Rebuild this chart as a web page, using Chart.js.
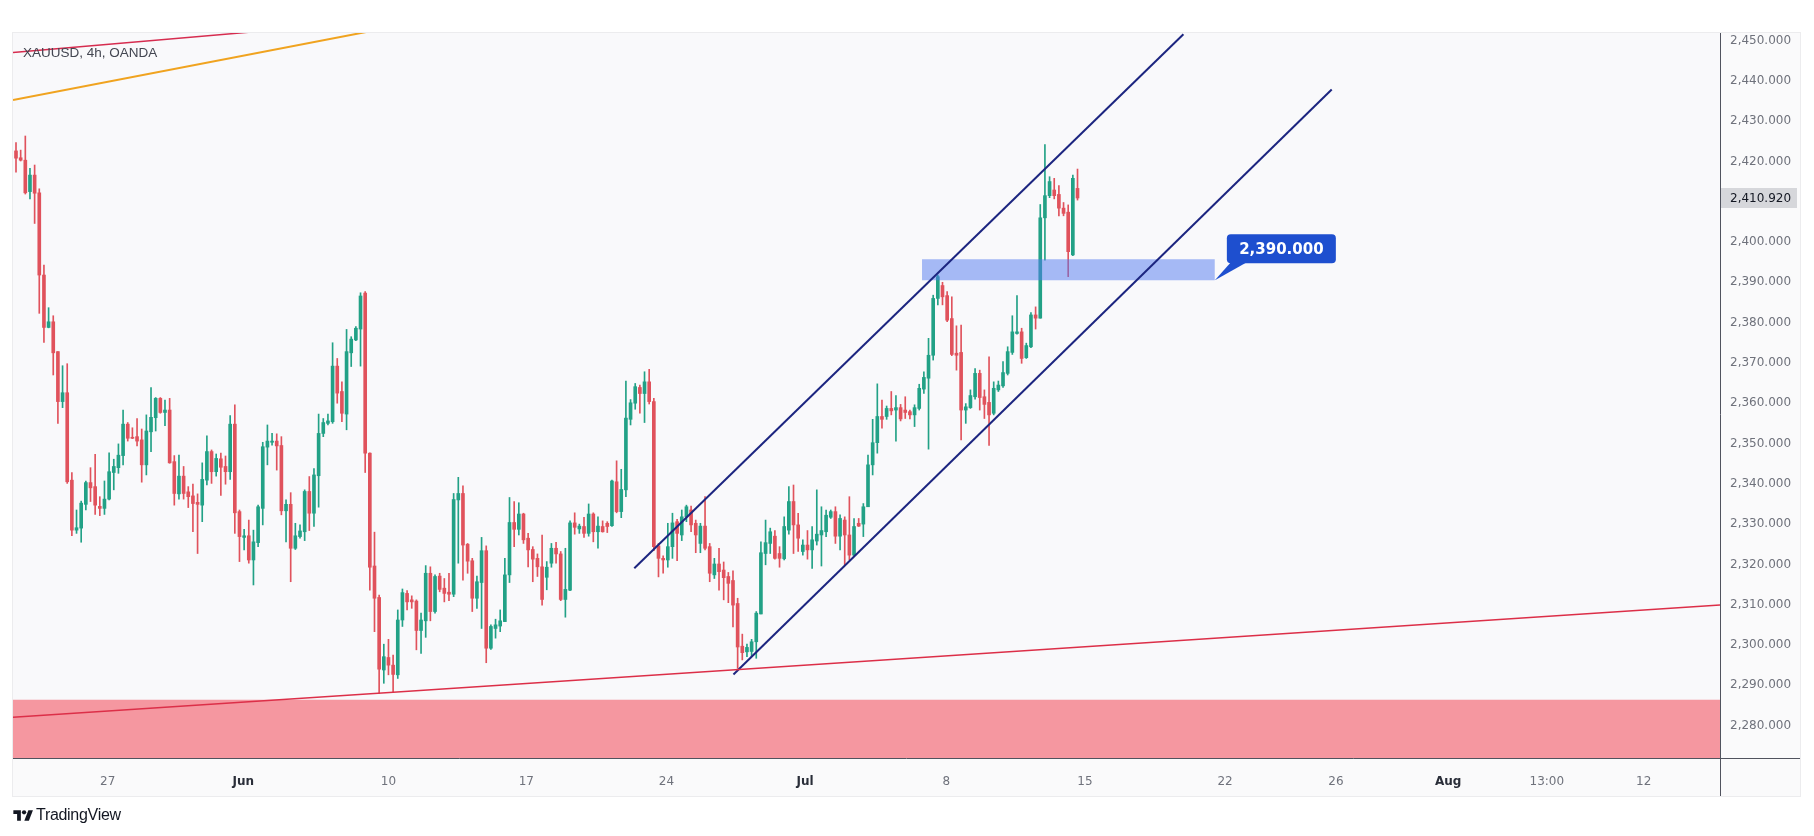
<!DOCTYPE html>
<html>
<head>
<meta charset="utf-8">
<script src="https://cdn.jsdelivr.net/npm/chart.js@4.4.1/dist/chart.umd.min.js"></script>
<style>
  html,body{margin:0;padding:0;background:#fff;}
  #wrap{position:relative;width:1814px;height:836px;}
  #title{position:absolute;left:23px;top:45px;font:13.5px "Liberation Sans",Arial,sans-serif;color:#434651;white-space:nowrap;}
  #logo{position:absolute;left:13px;top:806px;display:flex;align-items:center;gap:3px;font:16px "Liberation Sans",Arial,sans-serif;color:#131722;letter-spacing:-0.3px;}
</style>
</head>
<body>
<div id="wrap">
  <canvas id="chart" width="1814" height="836"></canvas>
  <div id="title">XAUUSD, 4h, OANDA</div>
  <div id="logo">
    <svg width="20" height="15" viewBox="0 0 36 28"><path d="M14 24H7V11H0V4h14v20z" fill="#131722"/><circle cx="20" cy="8" r="4" fill="#131722"/><path d="M29 24h-8.5L28 4h8.5z" fill="#131722"/></svg>
    <span>TradingView</span>
  </div>
</div>
<script>
// ----------------- DATA (XAUUSD 4h) -----------------
const opens = [2422.6,2420.9,2420.3,2412.5,2416.6,2412.2,2391.8,2378.8,2380.2,2372.8,
  2360.4,2362.6,2340.9,2328.5,2329.0,2334.9,2340.3,2339.3,2334.4,2333.9,
  2336.2,2342.8,2344.0,2347.0,2354.8,2351.5,2351.7,2350.9,2344.7,2352.9,
  2356.4,2361.2,2357.7,2358.3,2345.5,2337.5,2341.9,2338.0,2337.0,2335.4,
  2334.7,2340.9,2348.0,2343.0,2346.2,2344.3,2343.0,2354.8,2333.1,2326.7,
  2327.1,2321.1,2325.4,2333.9,2349.1,2350.3,2350.6,2349.5,2333.3,2334.9,
  2324.0,2326.9,2328.1,2338.1,2332.7,2342.0,2352.5,2355.0,2355.4,2369.2,
  2362.9,2357.3,2372.5,2375.7,2378.4,2387.3,2347.6,2319.6,2311.8,2293.8,
  2296.9,2295.0,2292.6,2306.2,2312.8,2311.2,2310.9,2303.6,2306.0,2317.8,
  2308.3,2317.1,2314.1,2313.1,2312.6,2336.0,2337.6,2325.0,2320.9,2311.6,
  2315.5,2323.4,2299.2,2304.1,2304.7,2305.8,2317.4,2330.4,2328.7,2332.5,
  2326.5,2323.7,2321.5,2319.4,2316.8,2320.3,2324.0,2322.6,2311.3,2313.6,
  2330.3,2328.8,2329.4,2327.7,2332.5,2328.1,2329.4,2330.2,2329.6,2340.5,
  2333.1,2338.5,2356.0,2360.0,2363.9,2362.4,2365.3,2360.4,2324.6,2321.5,
  2321.1,2324.4,2330.6,2327.3,2331.8,2333.5,2330.2,2325.2,2329.5,2324.4,
  2317.4,2320.1,2318.6,2317.0,2316.0,2310.3,2299.7,2298.3,2298.4,2300.8,
  2307.7,2322.7,2325.2,2327.0,2322.7,2321.4,2328.5,2335.6,2329.8,2323.2,
  2324.8,2323.6,2325.8,2327.3,2328.1,2331.7,2333.1,2327.0,2331.0,2327.3,
  2322.3,2330.2,2330.0,2334.3,2344.7,2350.2,2356.7,2356.7,2358.7,2358.3,
  2358.9,2358.3,2357.9,2357.1,2358.7,2363.5,2366.2,2371.9,2386.0,2389.2,
  2386.7,2381.0,2372.4,2372.6,2358.3,2358.9,2361.6,2367.4,2361.6,2360.2,
  2357.5,2363.3,2364.3,2367.4,2372.6,2377.3,2377.7,2371.3,2374.0,2381.9,
  2381.1,2406.0,2411.5,2412.9,2411.8,2408.4,2407.4,2396.8,2413.3];

const highs = [2424.7,2422.8,2426.3,2418.3,2419.1,2413.2,2394.3,2383.7,2381.7,2372.8,
  2369.3,2369.8,2342.8,2333.5,2335.7,2340.7,2344.0,2347.3,2336.8,2340.7,
  2347.7,2346.1,2349.9,2358.3,2355.2,2353.9,2356.2,2353.6,2357.1,2363.9,
  2361.4,2361.4,2360.8,2361.2,2347.0,2347.1,2344.3,2339.3,2339.9,2337.5,
  2345.2,2351.9,2348.4,2347.4,2347.6,2346.9,2356.9,2359.6,2333.5,2328.7,
  2331.0,2328.5,2334.7,2350.3,2354.6,2352.5,2352.4,2351.7,2336.0,2337.8,
  2330.2,2329.8,2338.5,2341.8,2343.8,2357.3,2356.2,2357.3,2375.0,2371.1,
  2365.3,2378.3,2376.5,2379.0,2387.4,2387.7,2347.7,2328.0,2312.4,2300.2,
  2301.4,2297.5,2308.7,2313.9,2313.5,2312.2,2311.2,2307.9,2319.7,2319.4,
  2317.4,2317.8,2316.5,2317.8,2337.6,2341.6,2339.5,2325.2,2321.5,2317.1,
  2326.7,2324.6,2305.0,2306.4,2308.7,2321.5,2336.6,2335.6,2335.3,2332.7,
  2327.7,2324.4,2322.6,2327.3,2320.7,2325.2,2325.5,2323.2,2324.0,2330.8,
  2332.8,2330.0,2331.7,2335.0,2332.8,2331.8,2330.8,2330.6,2340.9,2345.7,
  2343.6,2365.5,2360.9,2364.9,2364.5,2367.8,2368.4,2361.2,2325.2,2322.1,
  2330.2,2332.7,2331.2,2333.5,2334.7,2334.5,2331.0,2330.2,2336.8,2325.2,
  2321.5,2324.0,2320.6,2318.0,2318.4,2311.6,2302.7,2300.2,2301.4,2308.3,
  2325.6,2331.0,2329.0,2328.4,2324.4,2331.8,2339.3,2339.7,2332.7,2326.1,
  2328.4,2329.4,2338.5,2334.3,2333.5,2333.5,2334.3,2332.3,2331.8,2336.8,
  2331.4,2331.4,2335.1,2347.1,2356.0,2364.8,2360.8,2359.3,2362.9,2361.9,
  2359.7,2361.6,2358.3,2359.6,2364.7,2367.8,2376.1,2386.8,2391.8,2390.0,
  2387.7,2386.4,2379.2,2379.4,2359.9,2363.3,2368.6,2368.2,2363.3,2371.5,
  2365.3,2365.5,2370.3,2374.0,2381.7,2386.7,2378.6,2374.9,2382.5,2383.9,
  2409.3,2424.2,2416.2,2415.8,2414.0,2409.8,2409.2,2416.6,2418.1];

const lows = [2417.3,2420.1,2411.9,2410.7,2404.6,2382.3,2375.1,2378.7,2367.0,2355.0,
  2358.9,2340.1,2327.1,2327.7,2325.5,2333.5,2335.6,2332.4,2332.1,2332.4,
  2336.0,2338.5,2342.6,2344.7,2350.6,2351.2,2349.4,2340.4,2342.2,2348.0,
  2353.1,2357.5,2354.4,2345.1,2334.7,2336.2,2336.2,2334.1,2328.1,2322.7,
  2330.6,2339.7,2340.1,2341.9,2337.1,2339.9,2341.1,2327.7,2320.7,2323.6,
  2320.3,2314.9,2324.4,2329.8,2344.7,2349.6,2343.4,2332.3,2325.6,2315.7,
  2323.7,2326.5,2325.9,2328.4,2329.4,2334.2,2351.7,2354.6,2355.0,2360.0,
  2355.4,2353.4,2369.1,2375.5,2369.2,2342.8,2313.6,2303.3,2288.0,2290.5,
  2292.6,2288.2,2291.7,2304.6,2308.7,2309.1,2298.8,2297.9,2301.9,2306.0,
  2307.9,2313.2,2310.7,2311.0,2312.0,2320.3,2316.1,2317.8,2308.3,2309.1,
  2304.1,2295.6,2298.9,2301.7,2303.3,2305.8,2315.5,2324.4,2327.3,2325.2,
  2319.4,2315.7,2317.0,2309.9,2313.7,2319.3,2320.3,2311.0,2306.9,2313.5,
  2327.5,2327.7,2326.7,2327.0,2325.6,2324.0,2328.0,2327.9,2329.4,2332.8,
  2331.6,2336.8,2354.6,2358.5,2357.5,2355.2,2359.8,2323.4,2316.9,2317.8,
  2319.3,2321.5,2320.9,2325.9,2330.6,2328.1,2322.9,2322.9,2323.6,2315.7,
  2316.5,2313.6,2311.2,2310.5,2304.5,2294.2,2296.3,2297.1,2297.1,2296.7,
  2307.7,2319.9,2322.7,2321.3,2319.3,2321.1,2327.5,2322.7,2323.2,2322.3,
  2321.3,2319.0,2324.8,2319.6,2326.9,2331.4,2325.2,2323.6,2319.9,2321.1,
  2321.9,2329.4,2326.9,2334.3,2342.2,2347.6,2353.8,2356.0,2357.1,2350.6,
  2355.6,2356.2,2356.1,2354.2,2358.3,2362.4,2348.6,2370.7,2384.4,2384.4,
  2380.2,2371.8,2368.2,2350.9,2355.0,2358.7,2361.0,2358.3,2356.2,2349.5,
  2357.1,2362.9,2363.9,2367.0,2372.1,2377.1,2369.9,2371.1,2373.8,2378.4,
  2381.1,2395.5,2411.0,2410.7,2406.5,2406.5,2391.4,2396.6,2410.4];

const closes = [2420.8,2420.3,2412.2,2416.6,2412.1,2391.8,2378.8,2380.2,2372.5,2360.4,
  2362.6,2340.5,2328.5,2329.1,2335.2,2340.3,2339.0,2334.7,2333.9,2336.2,
  2343.0,2344.3,2347.1,2354.8,2351.3,2351.3,2350.6,2344.7,2353.1,2356.5,
  2361.2,2357.7,2358.3,2345.2,2337.6,2341.9,2337.6,2336.8,2335.1,2334.9,
  2341.1,2348.0,2343.0,2346.3,2344.1,2343.0,2354.8,2332.8,2326.9,2327.1,
  2321.1,2325.6,2334.3,2349.2,2350.6,2350.6,2349.4,2333.3,2334.9,2324.0,
  2327.1,2328.3,2338.1,2332.7,2342.2,2352.5,2355.2,2355.6,2369.2,2362.5,
  2357.5,2372.8,2375.9,2378.6,2386.6,2347.6,2319.3,2311.6,2294.0,2297.1,
  2295.0,2292.7,2306.2,2313.0,2310.7,2310.7,2303.6,2306.2,2317.8,2308.3,
  2317.0,2313.8,2312.8,2312.6,2336.1,2337.6,2324.8,2320.8,2311.6,2315.7,
  2323.4,2299.2,2304.6,2305.0,2306.0,2317.4,2330.4,2328.7,2332.5,2326.1,
  2323.6,2321.3,2319.4,2311.3,2319.3,2324.0,2322.6,2311.3,2313.8,2330.3,
  2329.2,2329.5,2327.7,2332.5,2328.1,2329.5,2328.1,2329.4,2340.7,2333.1,
  2338.6,2356.3,2360.1,2364.1,2362.4,2365.3,2360.4,2324.4,2321.5,2321.1,
  2324.4,2330.3,2327.7,2331.8,2334.3,2329.8,2327.3,2329.5,2324.0,2317.8,
  2320.1,2318.2,2316.7,2315.3,2309.9,2299.5,2298.1,2299.4,2300.8,2307.9,
  2322.9,2325.4,2328.1,2321.5,2321.5,2329.4,2335.6,2329.8,2326.5,2324.8,
  2323.6,2326.1,2327.5,2328.4,2332.2,2333.1,2327.0,2331.4,2327.3,2322.3,
  2329.4,2329.5,2334.3,2344.7,2350.2,2356.7,2356.0,2358.7,2358.1,2358.9,
  2356.1,2357.7,2357.1,2358.9,2363.7,2366.4,2371.9,2386.0,2391.4,2386.4,
  2380.6,2372.1,2371.9,2358.3,2359.1,2361.9,2367.4,2361.4,2359.7,2357.1,
  2363.7,2364.5,2367.6,2372.8,2377.7,2377.7,2371.1,2374.3,2381.9,2381.1,
  2406.0,2411.5,2415.0,2411.5,2408.4,2407.1,2397.6,2415.8,2410.92];

// time axis: candle slot of each day label (future slots continue past the last candle)
const dayTickSlots = [19.7, 48.8, 80.0, 109.6, 139.7, 169.5, 199.8, 229.6, 259.7, 283.5, 307.6, 328.8, 349.6];
const dayTickText  = ['27','Jun','10','17','24','Jul','8','15','22','26','Aug','13:00','12'];
const monthNames   = ['Jun','Jul','Aug'];

// price axis
const priceTicks = [2280,2290,2300,2310,2320,2330,2340,2350,2360,2370,2380,2390,2400,2410,2420,2430,2440,2450];
const priceMin = 2271.96, priceMax = 2451.86;
const slotMin = -0.645, slotMax = 366;

// drawings: trend lines [slot, price]
const redTopLine     = [[-0.645, 2447.0], [60, 2453.05]];
const orangeTopLine  = [[-0.645, 2435.24], [80, 2453.17]];
const redBottomLine  = [[-0.645, 2282.06], [366, 2309.93]];
const channelUpper   = [[132.8, 2319.03], [250.75, 2451.56]];
const channelLower   = [[154.1, 2292.68], [282.6, 2437.82]];

// zones
const resZoneSlots  = [194.6, 257.5];
const resZonePrices = [2390.5, 2395.7];
const supportZoneTop = 2286.4;
const calloutPrice = 2390;
// ---------------------------------------------------------------------------

const UP = '#22a186', DOWN = '#e0525c';
const candleColors = closes.map((c, i) => c >= opens[i] ? UP : DOWN);
const toPts = arr => arr.map(p => ({x: p[0], y: p[1]}));
const fmt = v => v.toLocaleString('en-US', {minimumFractionDigits: 3, maximumFractionDigits: 3});

function lineSet(points, color, width){
  return {type:'line', data: toPts(points), borderColor: color, borderWidth: width,
          pointRadius: 0, fill: false, tension: 0, clip: 0, order: 1};
}

// panel backgrounds + separator lines
const panelPlugin = {
  id: 'panel',
  beforeDraw(chart){
    const {ctx, chartArea: a, scales} = chart;
    const right = scales.y.right, bottom = scales.x.bottom;
    ctx.save();
    ctx.fillStyle = '#fafafb';
    ctx.fillRect(a.left, a.top, right - a.left, bottom - a.top);
    ctx.fillStyle = '#f9f9fb';
    ctx.fillRect(a.left, a.top, a.right - a.left, a.bottom - a.top);
    ctx.strokeStyle = '#ececee';
    ctx.lineWidth = 1;
    ctx.strokeRect(a.left - 0.5, a.top - 0.5, right - a.left + 1, bottom - a.top + 1);
    ctx.restore();
  },
  afterDraw(chart){
    const {ctx, chartArea: a, scales} = chart;
    const right = scales.y.right, bottom = scales.x.bottom;
    ctx.save();
    ctx.strokeStyle = '#50535e';
    ctx.lineWidth = 1;
    ctx.beginPath();
    ctx.moveTo(a.left, Math.round(a.bottom) + 0.5);
    ctx.lineTo(right, Math.round(a.bottom) + 0.5);
    ctx.moveTo(Math.round(a.right) + 0.5, a.top);
    ctx.lineTo(Math.round(a.right) + 0.5, bottom);
    ctx.stroke();

    // last price tag on the price axis
    const last = closes[closes.length - 1];
    const y = scales.y.getPixelForValue(last);
    ctx.fillStyle = '#d6d7db';
    ctx.fillRect(a.right + 1, y - 10, right - a.right - 4, 20);
    ctx.fillStyle = '#131722';
    ctx.font = '12px "DejaVu Sans"';
    ctx.textBaseline = 'middle';
    ctx.textAlign = 'left';
    ctx.fillText(fmt(last), a.right + 10, y + 0.5);

    // callout for the resistance zone
    const tx = scales.x.getPixelForValue(resZoneSlots[1]);
    const ty = scales.y.getPixelForValue(resZonePrices[0]);
    const bx = tx + 12, by = ty - 46, bw = 109, bh = 29;
    ctx.fillStyle = '#1e4fcf';
    ctx.beginPath();
    ctx.moveTo(tx, ty);
    ctx.lineTo(bx + 4, by + bh - 1);
    ctx.lineTo(bx + 20, by + bh - 1);
    ctx.closePath();
    ctx.fill();
    ctx.beginPath();
    ctx.roundRect(bx, by, bw, bh, 4);
    ctx.fill();
    ctx.fillStyle = '#ffffff';
    ctx.font = 'bold 15px "DejaVu Sans"';
    ctx.textAlign = 'center';
    ctx.fillText(fmt(calloutPrice), bx + bw / 2, by + bh / 2 + 1);
    ctx.restore();
  }
};

const ctx = document.getElementById('chart').getContext('2d');
new Chart(ctx, {
  type: 'bar',
  data: {
    datasets: [
      // support zone (pink) down to the bottom of the scale
      {type:'line', data: toPts([[slotMin, supportZoneTop], [slotMax, supportZoneTop]]),
       borderWidth: 0, pointRadius: 0, fill: 'start', backgroundColor: 'rgba(242,54,69,0.5)', order: 9, clip: 0},
      // resistance zone (blue): top edge then bottom edge filled to it
      {type:'line', data: toPts([[resZoneSlots[0], resZonePrices[1]], [resZoneSlots[1], resZonePrices[1]]]),
       borderWidth: 0, pointRadius: 0, fill: false, order: 3},
      {type:'line', data: toPts([[resZoneSlots[0], resZonePrices[0]], [resZoneSlots[1], resZonePrices[0]]]),
       borderWidth: 0, pointRadius: 0, fill: '-1', backgroundColor: 'rgba(82,122,240,0.5)', order: 3},
      // wicks
      {data: lows.map((l, i) => ({x: i, y: [l, highs[i]]})), backgroundColor: candleColors,
       barThickness: 1, grouped: false, order: 6},
      // bodies
      {data: opens.map((o, i) => ({x: i, y: [o, closes[i]]})), backgroundColor: candleColors,
       barThickness: 3, minBarLength: 1, grouped: false, order: 5},
      lineSet(redTopLine, '#d62c4f', 1.5),
      lineSet(orangeTopLine, '#f0a31f', 2),
      lineSet(redBottomLine, '#dc2f48', 1.5),
      lineSet(channelUpper, '#1c2580', 2),
      lineSet(channelLower, '#1c2580', 2)
    ]
  },
  options: {
    responsive: false,
    animation: false,
    devicePixelRatio: 1,
    layout: {padding: {left: 13, top: 33, right: 14, bottom: 40}},
    plugins: {legend: {display: false}, tooltip: {enabled: false}},
    scales: {
      x: {
        type: 'linear', min: slotMin, max: slotMax, offset: false,
        grid: {display: false}, border: {display: false},
        afterBuildTicks: s => { s.ticks = dayTickSlots.map(v => ({value: v})); },
        afterFit: s => { s.height = 38; },
        ticks: {
          autoSkip: false, maxRotation: 0, padding: 9,
          callback: v => dayTickText[dayTickSlots.indexOf(v)],
          color: c => monthNames.includes(dayTickText[c.index]) ? '#2a2e39' : '#6f727c',
          font: c => ({family: 'DejaVu Sans', size: 12,
                       weight: monthNames.includes(dayTickText[c.index]) ? 'bold' : 'normal'})
        }
      },
      y: {
        type: 'linear', position: 'right', min: priceMin, max: priceMax,
        grid: {display: false, drawTicks: false}, border: {display: false},
        afterBuildTicks: s => { s.ticks = priceTicks.map(v => ({value: v})); },
        afterFit: s => { s.width = 80; },
        ticks: {padding: 10, color: '#6f727c', font: {family: 'DejaVu Sans', size: 12}, callback: v => fmt(v)}
      }
    }
  },
  plugins: [panelPlugin]
});
</script>
</body>
</html>
